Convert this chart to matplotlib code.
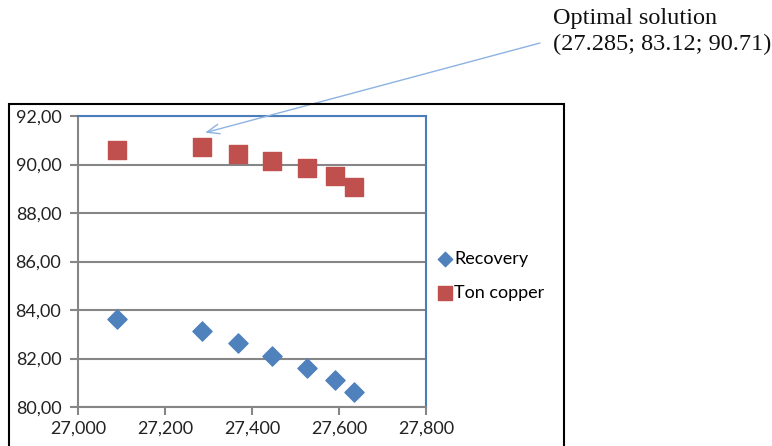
import matplotlib.pyplot as plt
from matplotlib.patches import Rectangle
from matplotlib.ticker import FuncFormatter, MultipleLocator

# values
tons = [27090, 27285, 27368, 27447, 27526, 27590, 27634]
recovery = [83.63, 83.12, 82.63, 82.12, 81.62, 81.13, 80.62]
ton_copper = [90.60, 90.71, 90.43, 90.14, 89.84, 89.51, 89.09]
opt_label = "Optimal solution\n(27.285; 83.12; 90.71)"

W, H = 772, 446
fig = plt.figure(figsize=(W / 100, H / 100), dpi=100)
ax = fig.add_axes([78 / W, 1 - 407 / H, 348 / W, 291 / H])

grey = "#868686"
blue_edge = "#4a7ebb"

ax.scatter(tons, recovery, marker="D", s=95, color="#4f81bd", label="Recovery", zorder=3)
ax.scatter(tons, ton_copper, marker="s", s=165, color="#c0504d", label="Ton copper", zorder=3)

ax.set_xlim(27000, 27800)
ax.set_ylim(80, 92)
ax.xaxis.set_major_locator(MultipleLocator(200))
ax.yaxis.set_major_locator(MultipleLocator(2))
ax.xaxis.set_major_formatter(FuncFormatter(lambda v, p: f"{v:,.0f}"))
ax.yaxis.set_major_formatter(FuncFormatter(lambda v, p: f"{v:.2f}".replace(".", ",")))
ax.grid(axis="y", color=grey, lw=1.5)
ax.set_axisbelow(True)

for s in ("left", "bottom"):
    ax.spines[s].set_color(grey)
    ax.spines[s].set_linewidth(1.5)
for s in ("top", "right"):
    ax.spines[s].set_color(blue_edge)
    ax.spines[s].set_linewidth(1.5)

ax.tick_params(direction="out", length=6, width=1.5, color=grey,
               labelsize=13, labelcolor="#222222", pad=4)
for lab in ax.get_xticklabels() + ax.get_yticklabels():
    lab.set_family("Lato")
ax.tick_params(axis="y", pad=6)

leg = ax.legend(loc="center left", bbox_to_anchor=(431 / W, 1 - 276 / H),
                bbox_transform=fig.transFigure, frameon=False, markerscale=0.75,
                handletextpad=0.1, handlelength=0.8, labelspacing=1.0,
                prop={"family": "Lato", "size": 13}, borderaxespad=0)

# chart frame
fig.add_artist(Rectangle((9 / W, -0.1), 555 / W, 1.1 - 104 / H, transform=fig.transFigure,
                         fill=False, ec="black", lw=1.5))

# annotation of the optimal point
ax.annotate("", xy=(tons[1] + 7, ton_copper[1] + 0.6), xycoords="data",
            xytext=(540 / W, 1 - 43 / H), textcoords="figure fraction",
            arrowprops=dict(arrowstyle="->,head_length=0.9,head_width=0.35",
                            color="#8db3e2", lw=1, shrinkA=0, shrinkB=0),
            annotation_clip=False)
fig.text(553 / W, 1 - 8 / H, opt_label, ha="left", va="top",
         family="Liberation Serif", fontsize=17.5, linespacing=1.3, color="#111111")

fig.savefig("out.png", dpi=100)
